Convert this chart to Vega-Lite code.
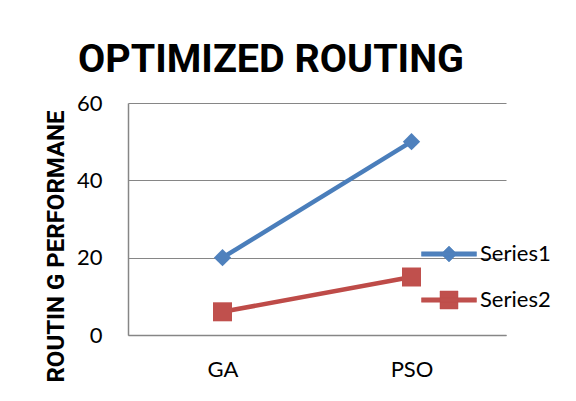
{
  "$schema": "https://vega.github.io/schema/vega-lite/v6.json",
  "width": 378,
  "height": 232,
  "autosize": {"type": "none"},
  "padding": {"left": 128, "top": 103, "right": 70, "bottom": 66},
  "background": "white",
  "title": {
    "text": "OPTIMIZED ROUTING",
    "font": "Roboto",
    "fontSize": 39.5,
    "fontWeight": "bold",
    "color": "black",
    "anchor": "middle",
    "frame": "group",
    "baseline": "alphabetic",
    "offset": 19,
    "dx": -46,
    "dy": 38
  },
  "data": {
    "values": [
      {"method": "GA", "series": "Series1", "value": 20},
      {"method": "PSO", "series": "Series1", "value": 50},
      {"method": "GA", "series": "Series2", "value": 6},
      {"method": "PSO", "series": "Series2", "value": 15}
    ]
  },
  "config": {
    "view": {"stroke": null},
    "axis": {
      "labelFont": "Lato",
      "labelFontSize": 22,
      "labelColor": "black",
      "domainColor": "#868686",
      "domainWidth": 1.5,
      "gridColor": "#868686",
      "gridWidth": 1.2,
      "ticks": false,
      "tickSize": 0
    }
  },
  "encoding": {
    "x": {
      "field": "method",
      "type": "nominal",
      "sort": ["GA", "PSO"],
      "scale": {"type": "point", "padding": 0.5},
      "axis": {"title": null, "labelAngle": 0, "labelPadding": 24, "grid": false}
    },
    "y": {
      "field": "value",
      "type": "quantitative",
      "scale": {"domain": [0, 60], "nice": false},
      "axis": {
        "values": [0, 20, 40, 60],
        "grid": true,
        "labelPadding": 26,
        "title": "ROUTIN G PERFORMANE",
        "titleFont": "Roboto",
        "titleFontSize": 24,
        "titleFontWeight": "bold",
        "titleColor": "black",
        "titleAngle": 270,
        "titleAlign": "center",
        "titleBaseline": "alphabetic",
        "titleX": -65,
        "titleY": 143
      }
    }
  },
  "layer": [
    {
      "mark": {"type": "line", "strokeWidth": 4.5},
      "encoding": {
        "color": {
          "field": "series",
          "type": "nominal",
          "scale": {"domain": ["Series1", "Series2"], "range": ["#4A7EBB", "#BE4B48"]},
          "legend": {
            "title": null,
            "orient": "none",
            "legendX": 310,
            "legendY": 140,
            "labelFont": "Lato",
            "labelFontSize": 22,
            "labelColor": "black",
            "labelOffset": 20,
            "symbolSize": 400,
            "rowPadding": 24,
            "encode": {
              "symbols": {
                "update": {
                  "shape": {"signal": "datum.value === 'Series1' ? 'M-2.75,-0.22L2.75,-0.22L2.75,0.22L-2.75,0.22ZM0,-0.8L0.8,0L0,0.8L-0.8,0Z' : 'M-2.75,-0.22L2.75,-0.22L2.75,0.22L-2.75,0.22ZM-0.9,-0.9L0.9,-0.9L0.9,0.9L-0.9,0.9Z'"},
                  "fill": {"signal": "datum.value === 'Series1' ? '#4F81BD' : '#C0504D'"},
                  "stroke": {"signal": "datum.value === 'Series1' ? '#4A7EBB' : '#BE4B48'"},
                  "strokeWidth": {"value": 0.5},
                  "fillOpacity": {"value": 1},
                  "opacity": {"value": 1}
                }
              }
            }
          }
        }
      }
    },
    {
      "transform": [{"filter": "datum.series === 'Series1'"}],
      "mark": {"type": "point", "filled": true, "opacity": 1, "strokeWidth": 0, "shape": "diamond", "size": 300, "color": "#4F81BD"}
    },
    {
      "transform": [{"filter": "datum.series === 'Series2'"}],
      "mark": {"type": "point", "filled": true, "opacity": 1, "strokeWidth": 0, "shape": "square", "size": 361, "color": "#C0504D"}
    }
  ]
}
